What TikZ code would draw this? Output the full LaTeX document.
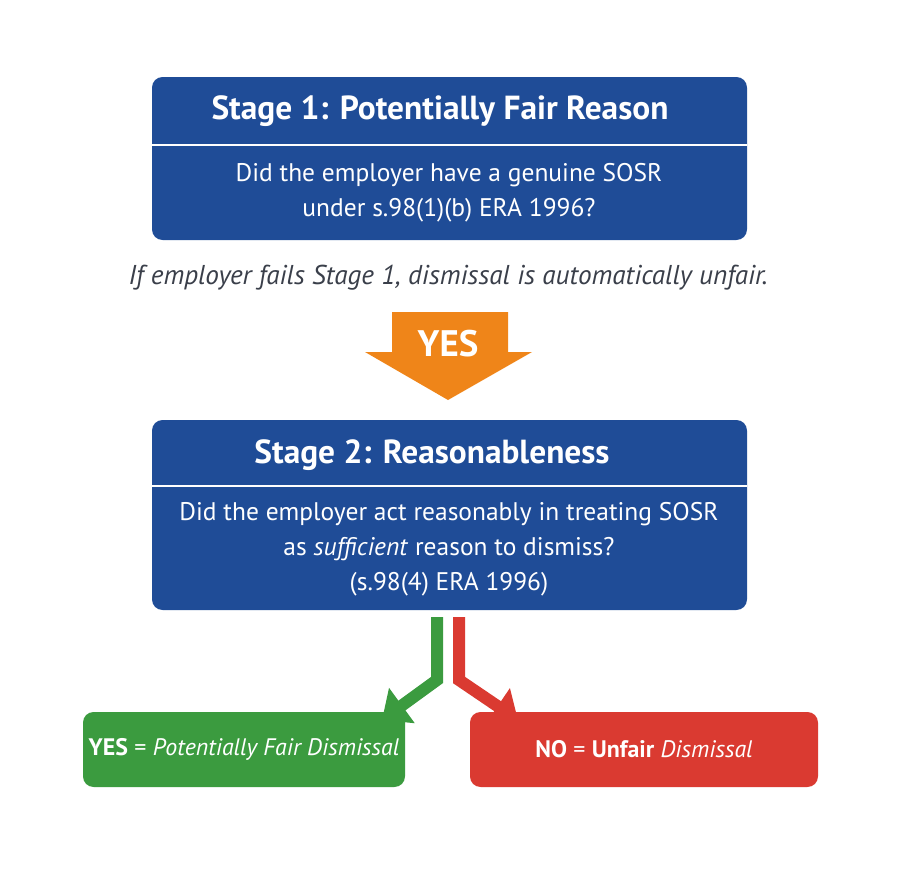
\documentclass[tikz,border=0pt]{standalone}
\usepackage{fontspec}
\setmainfont{PT Sans}
\usepackage{xcolor}
\usetikzlibrary{arrows.meta}
\definecolor{stageblue}{HTML}{1F4C97}
\definecolor{yesgreen}{HTML}{3B9B3F}
\definecolor{nored}{HTML}{DA3A31}
\definecolor{arrorange}{HTML}{EF8519}
\definecolor{notegray}{HTML}{3A3F4A}
\tikzset{
	stage/.style={fill=stageblue, rounded corners=6pt, draw=none},
	result/.style={rounded corners=6pt, draw=none, text=white, inner sep=0pt, font=\fontsize{13.6}{18}\selectfont},
	body/.style={text=white, align=center, font=\fontsize{14.5}{20}\selectfont},
	head/.style={text=white, font=\bfseries\fontsize{19}{22}\selectfont}
}
\begin{document}
\begin{tikzpicture}[x=0.02cm, y=-0.02cm]
	\useasboundingbox (0,0) rectangle (900,872);

	% Stage 1 box
	\node[stage, minimum width=595*0.02cm, minimum height=163*0.02cm] (S1) at (449.5,158.5) {};
	\draw[white, line width=1.5pt] (152,145) -- (747,145);
	\node[head] (S1h) at (440,111) {Stage 1: Potentially Fair Reason};
	\node[body] (S1b) at (449,193) {Did the employer have a genuine SOSR\\under s.98(1)(b) ERA 1996?};

	% Note
	\node[text=notegray, font=\itshape\fontsize{15.5}{18}\selectfont] (note) at (448,278) {If employer fails Stage 1, dismissal is automatically unfair.};

	% YES arrow
	\fill[arrorange] (392,312) -- (508,312) -- (508,352) -- (532,352) -- (448,400) -- (365,352) -- (392,352) -- cycle;
	\node[text=white, font=\bfseries\fontsize{21}{24}\selectfont] (yes) at (448,344) {YES};

	% Stage 2 box
	\node[stage, minimum width=595*0.02cm, minimum height=190*0.02cm] (S2) at (449.5,515) {};
	\draw[white, line width=1.5pt] (152,486) -- (747,486);
	\node[head] (S2h) at (432,455) {Stage 2: Reasonableness};
	\node[body] (S2b) at (449,549) {Did the employer act reasonably in treating SOSR\\as \textit{sufficient} reason to dismiss?\\(s.98(4) ERA 1996)};

	% Outcomes
	\node[result, fill=yesgreen, minimum width=322*0.02cm, minimum height=75*0.02cm] (Y) at (244,749.5) {\textbf{YES} = \textit{Potentially Fair Dismissal}};
	\node[result, fill=nored, minimum width=348*0.02cm, minimum height=75*0.02cm] (N) at (644,749.5) {\textbf{NO} = \textbf{Unfair} \textit{Dismissal}};

	% Branch arrows
	\coordinate (g1) at (437,617);
	\coordinate (g2) at (437,680);
	\coordinate (g3) at (382,720);
	\coordinate (r1) at (459,617);
	\coordinate (r2) at (459,680);
	\coordinate (r3) at (518,720);
	\draw[yesgreen, line width=12*0.02cm, -{Triangle[length=14pt, width=24pt]}] (g1) -- (g2) -- (g3);
	\draw[nored, line width=12*0.02cm, -{Triangle[length=14pt, width=24pt]}] (r1) -- (r2) -- (r3);
\end{tikzpicture}
\end{document}
